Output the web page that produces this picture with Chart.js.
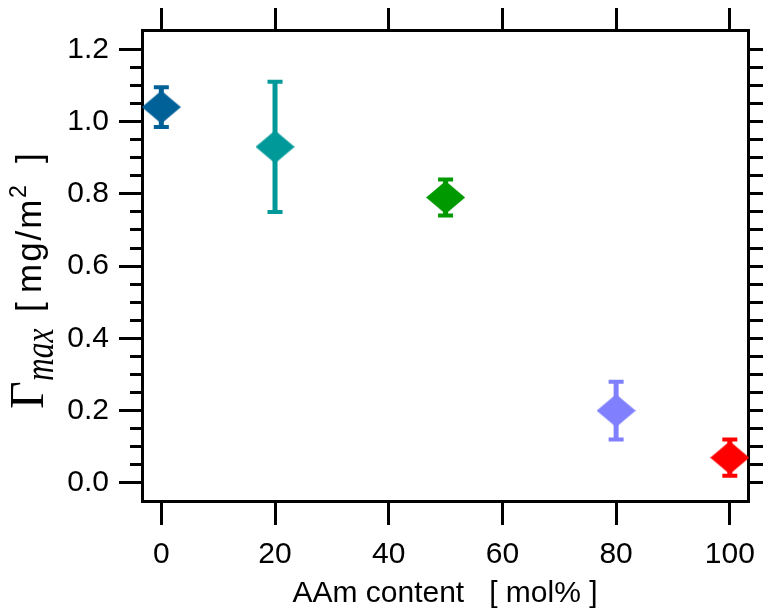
<!DOCTYPE html>
<html>
<head>
<meta charset="utf-8">
<script src="https://cdn.jsdelivr.net/npm/chart.js@4"></script>
<style>
  html, body { margin: 0; padding: 0; background: #fff; }
</style>
</head>
<body>
<canvas id="gammaChart" width="764" height="610"></canvas>
<script>
// adsorbed amount vs acrylamide content
const aamContent = [0, 20, 50, 80, 100];
const gammaMax = [1.04, 0.93, 0.79, 0.20, 0.07];
const gammaErr = [0.055, 0.18, 0.05, 0.08, 0.05];

const xTickValues = [0, 20, 40, 60, 80, 100];
const yTickLabels = ["0.0", "0.2", "0.4", "0.6", "0.8", "1.0", "1.2"];
const yMinorStep = 0.05;

const markerColors = ["#006098", "#009999", "#009900", "#8080ff", "#ff0000"];

const SANS = "'Liberation Sans', Arial, sans-serif";
const yMajor = yTickLabels.map(Number);
const isMajor = v => yMajor.some(m => Math.abs(m - v) < 1e-6);

function yTicks() {
  const out = [];
  const n = Math.round(yMajor[yMajor.length - 1] / yMinorStep);
  for (let i = 0; i <= n; i++) out.push({ value: +(i * yMinorStep).toFixed(2) });
  return out;
}

// diamond marker, a little wider than tall
function diamond(color) {
  const c = document.createElement("canvas");
  c.width = 39;
  c.height = 33;
  const g = c.getContext("2d");
  g.fillStyle = color;
  g.beginPath();
  g.moveTo(19.5, 0);
  g.lineTo(39, 16.5);
  g.lineTo(19.5, 33);
  g.lineTo(0, 16.5);
  g.closePath();
  g.fill();
  return c;
}
const markers = markerColors.map(diamond);

const errorBars = {
  id: "errorBars",
  beforeDatasetsDraw(chart) {
    const { ctx, scales: { x, y } } = chart;
    ctx.save();
    aamContent.forEach((v, i) => {
      const px = x.getPixelForValue(v);
      const top = y.getPixelForValue(gammaMax[i] + gammaErr[i]);
      const bot = y.getPixelForValue(gammaMax[i] - gammaErr[i]);
      ctx.strokeStyle = markerColors[i];
      ctx.lineWidth = 5;
      ctx.beginPath();
      ctx.moveTo(px, top);
      ctx.lineTo(px, bot);
      ctx.stroke();
      ctx.lineWidth = 4;
      ctx.beginPath();
      ctx.moveTo(px - 7.5, top);
      ctx.lineTo(px + 7.5, top);
      ctx.moveTo(px - 7.5, bot);
      ctx.lineTo(px + 7.5, bot);
      ctx.stroke();
    });
    ctx.restore();
  }
};

// y axis title: Γ_max [ mg/m² ], mixed fonts so drawn by hand
const yTitle = {
  id: "yTitle",
  afterDraw(chart) {
    const ctx = chart.ctx;
    ctx.save();
    ctx.translate(0, 410);
    ctx.rotate(-Math.PI / 2);
    ctx.fillStyle = "#000";
    ctx.textAlign = "left";
    ctx.textBaseline = "alphabetic";
    ctx.font = "48px 'Liberation Serif', serif";
    ctx.fillText("Γ", 1, 43);
    ctx.save();
    ctx.translate(29, 53);
    ctx.scale(0.85, 1.15);
    ctx.font = "italic 37px 'Liberation Serif', serif";
    ctx.fillText("max", 0, 0);
    ctx.restore();
    ctx.font = "35px " + SANS;
    ctx.fillText("[", 98, 41);
    if ("letterSpacing" in ctx) ctx.letterSpacing = "2px";
    ctx.fillText("mg/m", 117, 41);
    if ("letterSpacing" in ctx) ctx.letterSpacing = "0px";
    ctx.font = "23px " + SANS;
    ctx.fillText("2", 212, 26);
    ctx.font = "35px " + SANS;
    ctx.fillText("]", 247, 41);
    ctx.restore();
  }
};

const frameGrid = (len, extra) => Object.assign({
  display: true,
  drawOnChartArea: false,
  drawTicks: true,
  tickLength: len,
  tickWidth: 3,
  lineWidth: 3,
  tickColor: "#000"
}, extra || {});
const frameBorder = { display: true, color: "#000", width: 3 };

// fixed box sizes so the frame sits where it should
const fixHeight = h => s => { s.height = h; s.paddingLeft = 0; s.paddingRight = 0; };
const fixWidth = w => s => { s.width = w; s.paddingTop = 0; s.paddingBottom = 0; };

new Chart(document.getElementById("gammaChart"), {
  type: "scatter",
  data: {
    datasets: [{
      data: aamContent.map((v, i) => ({ x: v, y: gammaMax[i] })),
      pointStyle: markers,
      pointRadius: 18,
      pointHoverRadius: 18,
      showLine: false,
      clip: 4
    }]
  },
  options: {
    responsive: false,
    animation: false,
    events: [],
    layout: { padding: 0, autoPadding: false },
    plugins: { legend: { display: false }, tooltip: { enabled: false } },
    scales: {
      x: {
        type: "linear",
        position: "bottom",
        min: -3.4,
        max: 103.2,
        afterBuildTicks: s => { s.ticks = xTickValues.map(v => ({ value: v })); },
        afterFit: fixHeight(109),
        grid: frameGrid(24),
        border: frameBorder,
        ticks: {
          autoSkip: false,
          maxRotation: 0,
          padding: 12,
          color: "#000",
          font: { family: SANS, size: 30 }
        },
        title: {
          display: true,
          text: "AAm content   [ mol% ]",
          color: "#000",
          font: { family: SANS, size: 30, lineHeight: 1 },
          padding: { top: 0, bottom: 1 }
        }
      },
      x2: {
        type: "linear",
        position: "top",
        min: -3.4,
        max: 103.2,
        afterBuildTicks: s => { s.ticks = xTickValues.map(v => ({ value: v })); },
        afterFit: fixHeight(30),
        grid: frameGrid(22),
        border: frameBorder,
        ticks: { display: false }
      },
      y: {
        type: "linear",
        position: "left",
        min: -0.05,
        max: 1.2534,
        afterBuildTicks: s => { s.ticks = yTicks(); },
        afterFit: fixWidth(142),
        grid: frameGrid(23, {
          tickBorderDash: c => (c.tick && !isMajor(c.tick.value)) ? [0, 11, 12, 40] : []
        }),
        border: frameBorder,
        ticks: {
          autoSkip: false,
          padding: 10,
          color: "#000",
          font: { family: SANS, size: 30 },
          callback: v => {
            const i = yMajor.findIndex(m => Math.abs(m - v) < 1e-6);
            return i >= 0 ? yTickLabels[i] : "";
          }
        }
      },
      y2: {
        type: "linear",
        position: "right",
        min: -0.05,
        max: 1.2534,
        afterBuildTicks: s => { s.ticks = yTicks(); },
        afterFit: fixWidth(16),
        grid: frameGrid(15),
        border: frameBorder,
        ticks: { display: false }
      }
    }
  },
  plugins: [errorBars, yTitle]
});
</script>
</body>
</html>
